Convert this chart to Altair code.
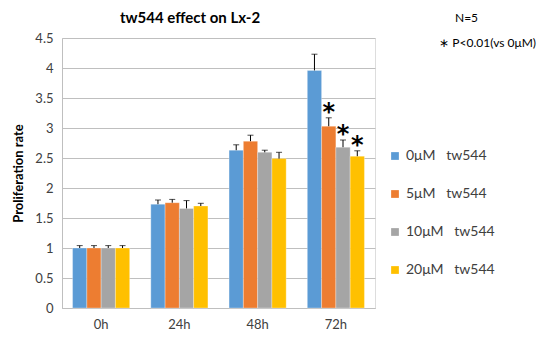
import altair as alt
import pandas as pd

times = ["0h", "24h", "48h", "72h"]
doses = ["0μM\u00a0\u00a0\u00a0tw544", "5μM\u00a0\u00a0\u00a0tw544", "10μM\u00a0\u00a0\u00a0tw544", "20μM\u00a0\u00a0\u00a0tw544"]
colors = ["#5B9BD5", "#ED7D31", "#A5A5A5", "#FFC000"]
values = {
    doses[0]: [1.00, 1.73, 2.63, 3.96],
    doses[1]: [1.00, 1.755, 2.78, 3.03],
    doses[2]: [1.00, 1.66, 2.595, 2.68],
    doses[3]: [1.00, 1.70, 2.49, 2.53],
}
errors = {
    doses[0]: [0.04, 0.07, 0.09, 0.27],
    doses[1]: [0.04, 0.055, 0.10, 0.14],
    doses[2]: [0.04, 0.13, 0.035, 0.12],
    doses[3]: [0.04, 0.045, 0.105, 0.09],
}
signif = {
    doses[0]: ["", "", "", ""],
    doses[1]: ["", "", "", "*"],
    doses[2]: ["", "", "", "*"],
    doses[3]: ["", "", "", "*"],
}
y_ticks = [0, 0.5, 1, 1.5, 2, 2.5, 3, 3.5, 4, 4.5]

rows = []
for d in doses:
    for i, t in enumerate(times):
        v = values[d][i]
        e = errors[d][i]
        rows.append({"time": t, "dose": d, "value": v, "upper": v + e, "sig": signif[d][i]})
df = pd.DataFrame(rows)

FONT = "Lato"

x = alt.X("time:N", sort=times, title=None,
          scale=alt.Scale(paddingInner=0.27, paddingOuter=0.135),
          axis=alt.Axis(labelAngle=0, labelFontSize=13, labelColor="#404040", labelPadding=10,
                        ticks=False, domainColor="#BFBFBF", labelFont=FONT))
xo = alt.XOffset("dose:N", sort=doses, scale=alt.Scale(paddingInner=0, paddingOuter=0))
y_axis = alt.Axis(values=y_ticks, format="~g", labelOverlap=False, labelBound=False,
                  grid=True, gridColor="#BFBFBF", ticks=False, domain=True, domainColor="#BFBFBF",
                  labelFontSize=13, labelColor="#404040", labelPadding=9, labelFont=FONT,
                  titleFontSize=13, titleFontWeight="bold", titleColor="#000000", titleFont=FONT,
                  titlePadding=9)
y_scale = alt.Scale(domain=[0, 4.5], nice=False)


def Y(field):
    return alt.Y(field, title="Proliferation rate", scale=y_scale, axis=y_axis)


base = alt.Chart(df)

bars = base.mark_bar(stroke="#FFFFFF", strokeWidth=0.5, strokeOpacity=0.6).encode(
    x=x, xOffset=xo, y=Y("value:Q"),
    color=alt.Color("dose:N", sort=doses, scale=alt.Scale(domain=doses, range=colors),
                    legend=alt.Legend(title=None, orient="none", legendX=326, legendY=111,
                                      symbolType="square", symbolSize=60, symbolStrokeWidth=0,
                                      labelFontSize=14, labelColor="#404040", labelFont=FONT,
                                      rowPadding=24, labelOffset=4)),
)

err = base.mark_rule(color="#000000", strokeWidth=1).encode(
    x=x, xOffset=xo, y=Y("value:Q"), y2="upper:Q")
cap = base.mark_tick(color="#000000", thickness=1, size=6, orient="horizontal").encode(
    x=x, xOffset=xo, y=Y("upper:Q"))
stars = base.mark_text(fontSize=24, fontWeight="bold", font="DejaVu Sans", baseline="middle",
                       dy=-5, color="#000000").encode(
    x=x, xOffset=xo, y=Y("upper:Q"), text="sig:N")

ann_df = pd.DataFrame({"t": ["tw544 effect on Lx-2"]})
title_txt = alt.Chart(ann_df).mark_text(fontSize=15, fontWeight="bold", font=FONT, align="center",
                                        baseline="middle", color="#000000").encode(
    x=alt.value(128), y=alt.value(-20), text="t:N")
n_df = pd.DataFrame({"t": ["N=5"]})
n_txt = alt.Chart(n_df).mark_text(fontSize=12, font=FONT, align="left", baseline="middle",
                                  color="#000000").encode(
    x=alt.value(393), y=alt.value(-20), text="t:N")
p_df = pd.DataFrame({"t": ["\u2217 P<0.01(vs 0μM)"]})
p_txt = alt.Chart(p_df).mark_text(fontSize=12, font=FONT, align="right", baseline="middle",
                                  color="#000000").encode(
    x=alt.value(474), y=alt.value(5), text="t:N")

chart = alt.layer(bars, err, cap, stars, title_txt, n_txt, p_txt).properties(
    width=313, height=270,
    autosize=alt.AutoSizeParams(type="none"),
    padding={"left": 54, "top": 30, "right": 162, "bottom": 24},
).configure_view(stroke=None).configure(background="#FFFFFF")

chart.save("out.html", embed_options={"renderer": "svg", "actions": False})
